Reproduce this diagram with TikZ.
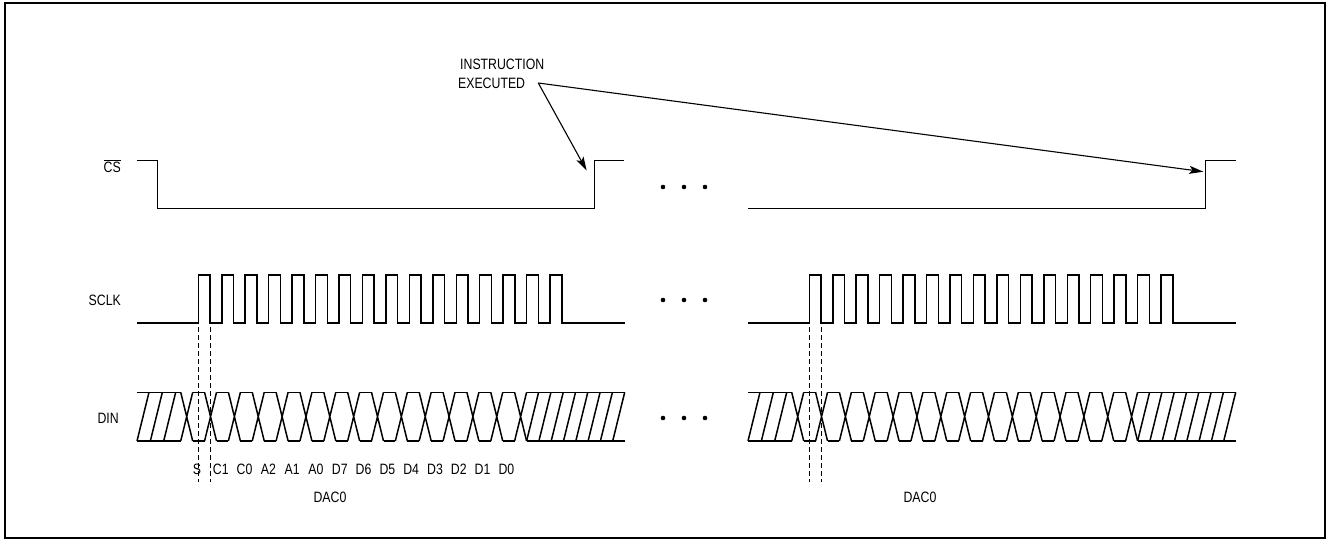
\documentclass[tikz,border=0pt]{standalone}
\usepackage{fontspec}
\setmainfont{Liberation Sans}[FakeStretch=0.82]
\usetikzlibrary{arrows.meta}

\tikzset{
  sig/.style={line width=1.5pt, line join=miter},
  lbl/.style={font=\fontsize{15}{19}\selectfont, inner sep=0pt},
  guide/.style={line width=0.9pt, dash pattern=on 5pt off 3pt},
  ptr/.style={line width=1.1pt, -{Stealth[length=14pt,width=8pt,inset=3pt]}}
}

\begin{document}
\begin{tikzpicture}[x=1pt,y=-1pt]

%Define signal levels (pixel units, y runs down)
\def\cshi{160.7}    %CS high.
\def\cslo{208.3}    %CS low.
\def\ckhi{275}      %SCLK high.
\def\cklo{323}      %SCLK low.
\def\dtop{392.3}    %DIN upper rail.
\def\dbot{441}      %DIN lower rail.
\def\clkper{23.45}  %SCLK period.
\def\datper{23.85}  %DIN bit period.
\def\hw{6}          %Half width of a data crossing.
\def\tail{526.6}    %Start of trailing don't-care.

\useasboundingbox (0,0) rectangle (1330,543);
\draw[line width=2.3pt] (5,3) rectangle (1325,538);

% Define coordinates
\coordinate (tip1) at (586.7,170.7);
\coordinate (tip2) at (1203.3,171.7);

% Signal names
\node[lbl, anchor=base east] (cs) at (121,172) {$\overline{\mbox{CS}}$};
\node[lbl, anchor=base east] (sclk) at (121,305) {SCLK};
\node[lbl, anchor=base east] (din) at (119,423) {DIN};

% CS
\draw[sig] (137,\cshi) -- (157.3,\cshi) -- (157.3,\cslo) -- (594.3,\cslo) -- (594.3,\cshi) -- (624,\cshi);
\draw[sig] (748,\cslo) -- (1205.7,\cslo) -- (1205.7,\cshi) -- (1235.7,\cshi);

% SCLK and DIN, both frames
\foreach \s in {0,611} {
\begin{scope}[xshift=\s pt]
  \draw[sig] (137,\cklo) \foreach \k in {0,...,15} {
      -- ({198.3+\k*\clkper},\cklo) -- ({198.3+\k*\clkper},\ckhi)
      -- ({210+\k*\clkper},\ckhi) -- ({210+\k*\clkper},\cklo) } -- (625,\cklo);

  %leading don't-care
  \draw[sig] (137,\dtop) -- ({186.7-\hw},\dtop) (137,\dbot) -- ({186.7-\hw},\dbot);
  \foreach \j in {0,1,2} \draw[sig] ({137+13.35*\j},\dbot) -- ({149+13.35*\j},\dtop);

  %bit crossings
  \foreach \k in {0,...,14} \draw[sig] ({186.7+\k*\datper-\hw},\dtop) -- ({186.7+\k*\datper+\hw},\dbot)
      ({186.7+\k*\datper-\hw},\dbot) -- ({186.7+\k*\datper+\hw},\dtop);
  \foreach \k in {0,...,13} \draw[sig] ({186.7+\k*\datper+\hw},\dtop) -- ({186.7+(\k+1)*\datper-\hw},\dtop)
      ({186.7+\k*\datper+\hw},\dbot) -- ({186.7+(\k+1)*\datper-\hw},\dbot);

  %trailing don't-care
  \draw[sig] (\tail,\dtop) -- (625,\dtop) (\tail,\dbot) -- (625,\dbot);
  \foreach \j in {0,...,7} \draw[sig] ({\tail+12.3*\j},\dbot) -- ({\tail+12+12.3*\j},\dtop);

  %sampling guides
  \draw[guide] (198.3,327) -- (198.3,482) (210,327) -- (210,482);
\end{scope}
}

% Bit names
\foreach \t [count=\k from 0] in {S,C1,C0,A2,A1,A0,D7,D6,D5,D4,D3,D2,D1,D0}
  \node[lbl] (bit\k) at ({197+\k*23.8},469) {\t};

\node[lbl] (daca) at (330,497) {DAC0};
\node[lbl] (dacb) at (920,497) {DAC0};

% Continuation dots
\foreach \y in {187,300,418} \foreach \x in {663,684,705} \fill (\x,\y) circle[radius=2.3pt];

% Instruction executed
\node[lbl, anchor=base west] (instr) at (460,70) {INSTRUCTION};
\node[lbl, anchor=east, inner xsep=13pt] (exec) at (538.3,83) {EXECUTED};
\draw[ptr] (exec.east) -- (tip1);
\draw[ptr] (exec.east) -- (tip2);

\end{tikzpicture}
\end{document}
